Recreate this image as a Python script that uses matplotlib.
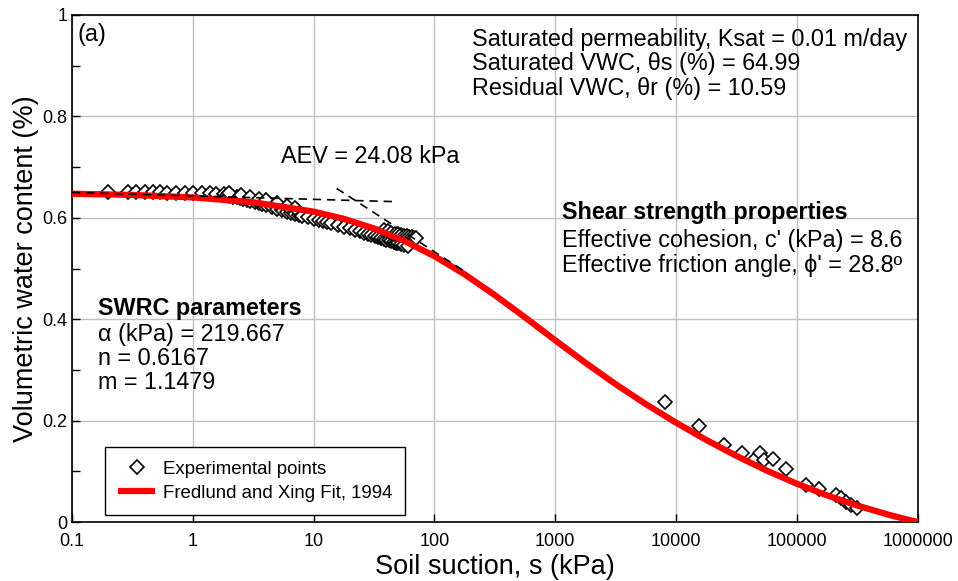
import matplotlib
matplotlib.use("Agg")
import matplotlib.pyplot as plt
from matplotlib.ticker import FixedLocator, FixedFormatter

plt.rcParams['font.family'] = ['Liberation Sans', 'DejaVu Sans']

# experimental points - low suction part (kPa, VWC)
exp_low_s = [0.2, 0.29, 0.34, 0.40, 0.465, 0.535, 0.61, 0.73, 0.86, 1.0, 1.18, 1.38, 1.57]
exp_low_t = [0.650, 0.650, 0.650, 0.650, 0.650, 0.650, 0.649, 0.649, 0.649, 0.648, 0.648, 0.648, 0.647]

# dense band of points
exp_mid_s = [1.8, 1.9, 2.0, 2.15, 2.3, 2.45, 2.6, 2.8, 3.0, 3.25, 3.5, 3.75, 4.0, 4.5, 5.0,
             5.5, 6.0, 6.5, 7.0, 7.5, 8.0, 9.0, 10, 11, 12, 13, 14, 16, 18, 20, 22, 24,
             26, 28, 30, 32, 34, 36, 38, 40, 42, 44, 46, 48, 50, 53, 56, 60]
exp_mid_t = [0.646, 0.645, 0.643, 0.642, 0.641, 0.640, 0.638, 0.636, 0.634, 0.632, 0.629,
             0.627, 0.625, 0.621, 0.618, 0.615, 0.612, 0.610, 0.608, 0.606, 0.604, 0.601,
             0.598, 0.596, 0.593, 0.591, 0.589, 0.585, 0.582, 0.579, 0.576, 0.573, 0.571,
             0.569, 0.567, 0.565, 0.563, 0.561, 0.559, 0.557, 0.556, 0.554, 0.553, 0.551,
             0.550, 0.548, 0.546, 0.544]
# upper strip of the band
exp_up_s = [2.0, 2.5, 3.0, 3.5, 4.0, 5.0, 6.0, 7.0, 38, 41, 44, 47, 50, 53, 56, 59, 62, 65, 68, 71]
exp_up_t = [0.648, 0.645, 0.642, 0.638, 0.635, 0.629, 0.624, 0.620, 0.575, 0.573, 0.571, 0.569,
            0.568, 0.566, 0.565, 0.564, 0.563, 0.562, 0.561, 0.560]

# high suction points
exp_high_s = [8180, 15460, 25200, 35300, 44600, 49700, 54000, 63200, 81500, 119000,
              153800, 211000, 232000, 256000, 281000, 313000]
exp_high_t = [0.237, 0.189, 0.152, 0.137, 0.122, 0.137, 0.122, 0.124, 0.104, 0.073,
              0.066, 0.053, 0.047, 0.040, 0.034, 0.027]

# Fredlund and Xing fitted curve, read at quarter decades
fit_s = [0.1, 0.316, 1, 3.16, 10, 17.8, 31.6, 56.2, 100, 178, 316, 562, 1000, 1778, 3162,
         5623, 10000, 17783, 31623, 56234, 100000, 177828, 316228, 562341, 794328, 1000000]
fit_t = [0.6475, 0.6451, 0.6402, 0.6307, 0.6122, 0.5980, 0.5790, 0.5546, 0.5244, 0.4885,
         0.4476, 0.4037, 0.3585, 0.3141, 0.2719, 0.2326, 0.1960, 0.1620, 0.1305, 0.1016,
         0.0756, 0.0526, 0.0325, 0.0151, 0.0058, 0.0]

# AEV construction lines
tan1_s = [0.1, 45]
tan1_t = [0.650, 0.632]
tan2_s = [15.5, 171]
tan2_t = [0.658, 0.497]

xticks = [0.1, 1, 10, 100, 1000, 10000, 100000, 1000000]
xtick_labels = ['0.1', '1', '10', '100', '1000', '10000', '100000', '1000000']
yticks = [0, 0.2, 0.4, 0.6, 0.8, 1.0]
ytick_labels = ['0', '0.2', '0.4', '0.6', '0.8', '1']

fig = plt.figure(figsize=(9.58, 5.81), dpi=100)
ax = fig.add_axes([0.0752, 0.1015, 0.8826, 0.8727])

mk = dict(marker='D', ms=7, mfc='white', mec='black', mew=1.2, ls='none', zorder=3)
ax.plot(exp_low_s, exp_low_t, **mk)
ax.plot(exp_mid_s, exp_mid_t, **mk)
ax.plot(exp_up_s, exp_up_t, **mk)
ax.plot(exp_high_s, exp_high_t, label='Experimental points', **mk)
ax.plot(fit_s, fit_t, color='#ff0000', lw=4.5, solid_capstyle='butt', zorder=4,
        label='Fredlund and Xing Fit, 1994')
ax.plot(tan1_s, tan1_t, color='black', lw=1.2, ls=(0, (5, 3.5)), zorder=5)
ax.plot(tan2_s, tan2_t, color='black', lw=1.2, ls=(0, (5, 3.5)), zorder=5)

ax.set_xscale('log')
ax.set_xlim(0.1, 1000000)
ax.set_ylim(0, 1)
ax.xaxis.set_major_locator(FixedLocator(xticks))
ax.xaxis.set_major_formatter(FixedFormatter(xtick_labels))
ax.xaxis.set_minor_locator(FixedLocator([]))
ax.yaxis.set_major_locator(FixedLocator(yticks))
ax.yaxis.set_major_formatter(FixedFormatter(ytick_labels))
ax.yaxis.set_minor_locator(FixedLocator([0.1, 0.3, 0.5, 0.7, 0.9]))
ax.tick_params(axis='both', which='both', direction='in', labelsize=13, length=6, width=1)
ax.tick_params(axis='x', pad=8)
ax.grid(True, which='major', color='#c0c0c0', lw=1)
ax.set_axisbelow(True)
for sp in ax.spines.values():
    sp.set_linewidth(1.2)

ax.set_xlabel('Soil suction, s (kPa)', fontsize=19.5, labelpad=3)
ax.set_ylabel('Volumetric water content (%)', fontsize=19.5, labelpad=2)

fs = 16.8
tr = ax.transAxes
ax.text(0.006, 0.985, '(a)', transform=tr, fontsize=fs, va='top', ha='left')
ax.text(0.353, 0.720, 'AEV = 24.08 kPa', transform=tr, fontsize=fs, ha='center', va='center')

ax.text(0.473, 0.951, 'Saturated permeability, Ksat = 0.01 m/day', transform=tr, fontsize=fs, va='center')
ax.text(0.473, 0.905, 'Saturated VWC, θs (%) = 64.99', transform=tr, fontsize=fs, va='center')
ax.text(0.473, 0.856, 'Residual VWC, θr (%) = 10.59', transform=tr, fontsize=fs, va='center')

ax.text(0.580, 0.611, 'Shear strength properties', transform=tr, fontsize=fs,
        fontweight='bold', va='center')
ax.text(0.580, 0.556, "Effective cohesion, c' (kPa) = 8.6", transform=tr, fontsize=fs, va='center')
ax.text(0.580, 0.505, "Effective friction angle, ϕ' = 28.8º", transform=tr, fontsize=fs, va='center')

ax.text(0.031, 0.422, 'SWRC parameters', transform=tr, fontsize=fs, fontweight='bold', va='center')
ax.text(0.031, 0.369, 'α (kPa) = 219.667', transform=tr, fontsize=fs, va='center')
ax.text(0.031, 0.323, 'n = 0.6167', transform=tr, fontsize=fs, va='center')
ax.text(0.031, 0.276, 'm = 1.1479', transform=tr, fontsize=fs, va='center')

leg = ax.legend(loc='lower left', bbox_to_anchor=(0.039, 0.0138), fontsize=13.4,
                frameon=True, fancybox=False, edgecolor='black', framealpha=1,
                handlelength=2.0, handletextpad=0.4, borderpad=0.7, borderaxespad=0,
                labelspacing=0.4)
leg.get_frame().set_linewidth(1.0)

fig.savefig('out.png', dpi=100)
